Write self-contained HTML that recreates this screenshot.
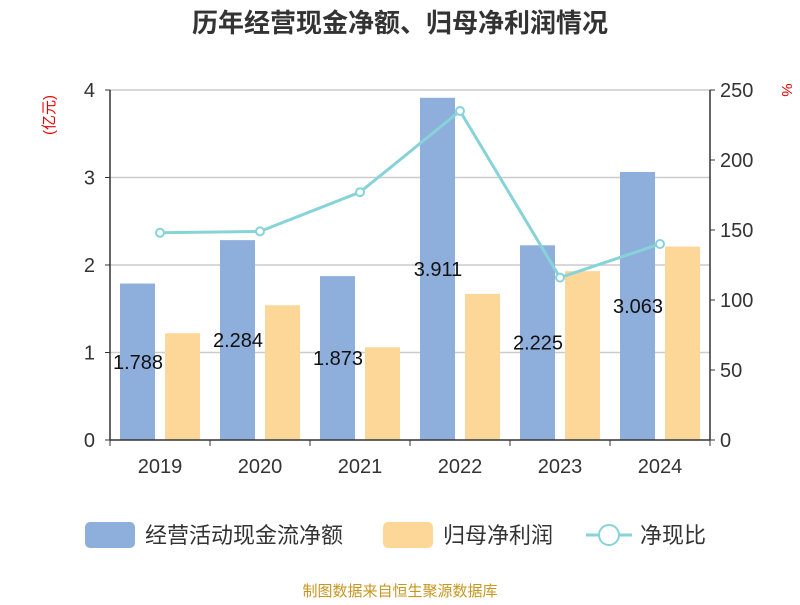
<!DOCTYPE html>
<html><head><meta charset="utf-8"><style>
body{margin:0;background:#fff;font-family:"Liberation Sans","Noto Sans CJK SC",sans-serif}
svg text{font-family:"Liberation Sans","Noto Sans CJK SC",sans-serif}
</style></head><body>
<svg id="c" width="800" height="600">
<text x="400" y="32" text-anchor="middle" font-size="26" font-weight="bold" fill="#333">历年经营现金净额、归母净利润情况</text>
<text transform="translate(54,115) rotate(-90)" text-anchor="middle" font-size="15" fill="#e00">(亿元)</text>
<text transform="translate(782,90) rotate(90)" text-anchor="middle" font-size="15" fill="#e00">%</text>
<g id="grid"></g><g id="bars"></g><g id="line"></g><g id="axes"></g>
<g>
<rect x="85" y="522" width="50" height="26" rx="5" fill="#8eaedb"/>
<text x="145" y="543" font-size="22" fill="#333">经营活动现金流净额</text>
<rect x="383" y="522" width="50" height="26" rx="5" fill="#fdd797"/>
<text x="443" y="543" font-size="22" fill="#333">归母净利润</text>
<line x1="586" y1="535" x2="632" y2="535" stroke="#86d3d8" stroke-width="3"/>
<circle cx="609" cy="535" r="10" fill="#fff" stroke="#86d3d8" stroke-width="2"/>
<text x="640" y="543" font-size="22" fill="#333">净现比</text>
</g>
<text x="400" y="596" text-anchor="middle" font-size="15" fill="#c8961e">制图数据来自恒生聚源数据库</text>
</svg>
<script>
const categories=["2019","2020","2021","2022","2023","2024"];
const cashflow=[1.788,2.284,1.873,3.911,2.225,3.063];
const profit=[1.22,1.54,1.06,1.67,1.93,2.21];
const ratio=[148,149,177,235,116,140];
const leftTicks=[0,1,2,3,4];
const rightTicks=[0,50,100,150,200,250];
const NS="http://www.w3.org/2000/svg";
const X0=110,X1=710,Y0=440,Y1=90;
const bw=(X1-X0)/categories.length;
const xc=i=>X0+bw*(i+0.5);
const yL=v=>Y0-(v/4)*(Y0-Y1);
const yR=v=>Y0-(v/250)*(Y0-Y1);
function mk(p,tag,a){const e=document.createElementNS(NS,tag);for(const k in a)e.setAttribute(k,a[k]);document.getElementById(p).appendChild(e);return e;}
leftTicks.forEach(t=>{if(t>0){const g=mk("grid","line",{x1:X0,x2:X1,y1:yL(t),y2:yL(t),stroke:"#ccc","stroke-width":1.5});

}
const l=mk("axes","text",{x:95,y:yL(t)+7,"text-anchor":"end","font-size":20,fill:"#333"});l.textContent=t;


mk("axes","line",{x1:X0-5,x2:X0,y1:yL(t),y2:yL(t),stroke:"#333"});});
rightTicks.forEach(t=>{const l=mk("axes","text",{x:720,y:yR(t)+7,"font-size":20,fill:"#333"});l.textContent=t;


mk("axes","line",{x1:X1,x2:X1+5,y1:yR(t),y2:yR(t),stroke:"#333"});});
categories.forEach((c,i)=>{
const b=mk("bars","rect",{x:xc(i)-40,y:yL(cashflow[i]),width:35,height:Y0-yL(cashflow[i]),fill:"#8eaedb"});


const o=mk("bars","rect",{x:xc(i)+5,y:yL(profit[i]),width:35,height:Y0-yL(profit[i]),fill:"#fdd797"});


const v=mk("bars","text",{x:xc(i)-22,y:(yL(cashflow[i])+Y0)/2+7,"text-anchor":"middle","font-size":20,fill:"#111"});v.textContent=cashflow[i];


const l=mk("axes","text",{x:xc(i),y:473,"text-anchor":"middle","font-size":20,fill:"#333"});l.textContent=c;


mk("axes","line",{x1:X0+bw*i,x2:X0+bw*i,y1:Y0,y2:Y0+6,stroke:"#333"});});
mk("axes","line",{x1:X1,x2:X1,y1:Y0+6,y2:Y0,stroke:"#333"});
const ax=[mk("axes","line",{x1:X0,x2:X0,y1:Y1,y2:Y0,stroke:"#333","stroke-width":1.5}),mk("axes","line",{x1:X1,x2:X1,y1:Y1,y2:Y0,stroke:"#333","stroke-width":1.5}),mk("axes","line",{x1:X0,x2:X1,y1:Y0,y2:Y0,stroke:"#333","stroke-width":1.5})];
ax.forEach(a=>{
});
const pl=mk("line","polyline",{points:ratio.map((v,i)=>xc(i)+","+yR(v)).join(" "),fill:"none",stroke:"#86d3d8","stroke-width":3});


ratio.forEach((v,i)=>{const p=mk("line","circle",{cx:xc(i),cy:yR(v),r:4,fill:"#fff",stroke:"#86d3d8","stroke-width":2});

});
</script>
</body></html>
